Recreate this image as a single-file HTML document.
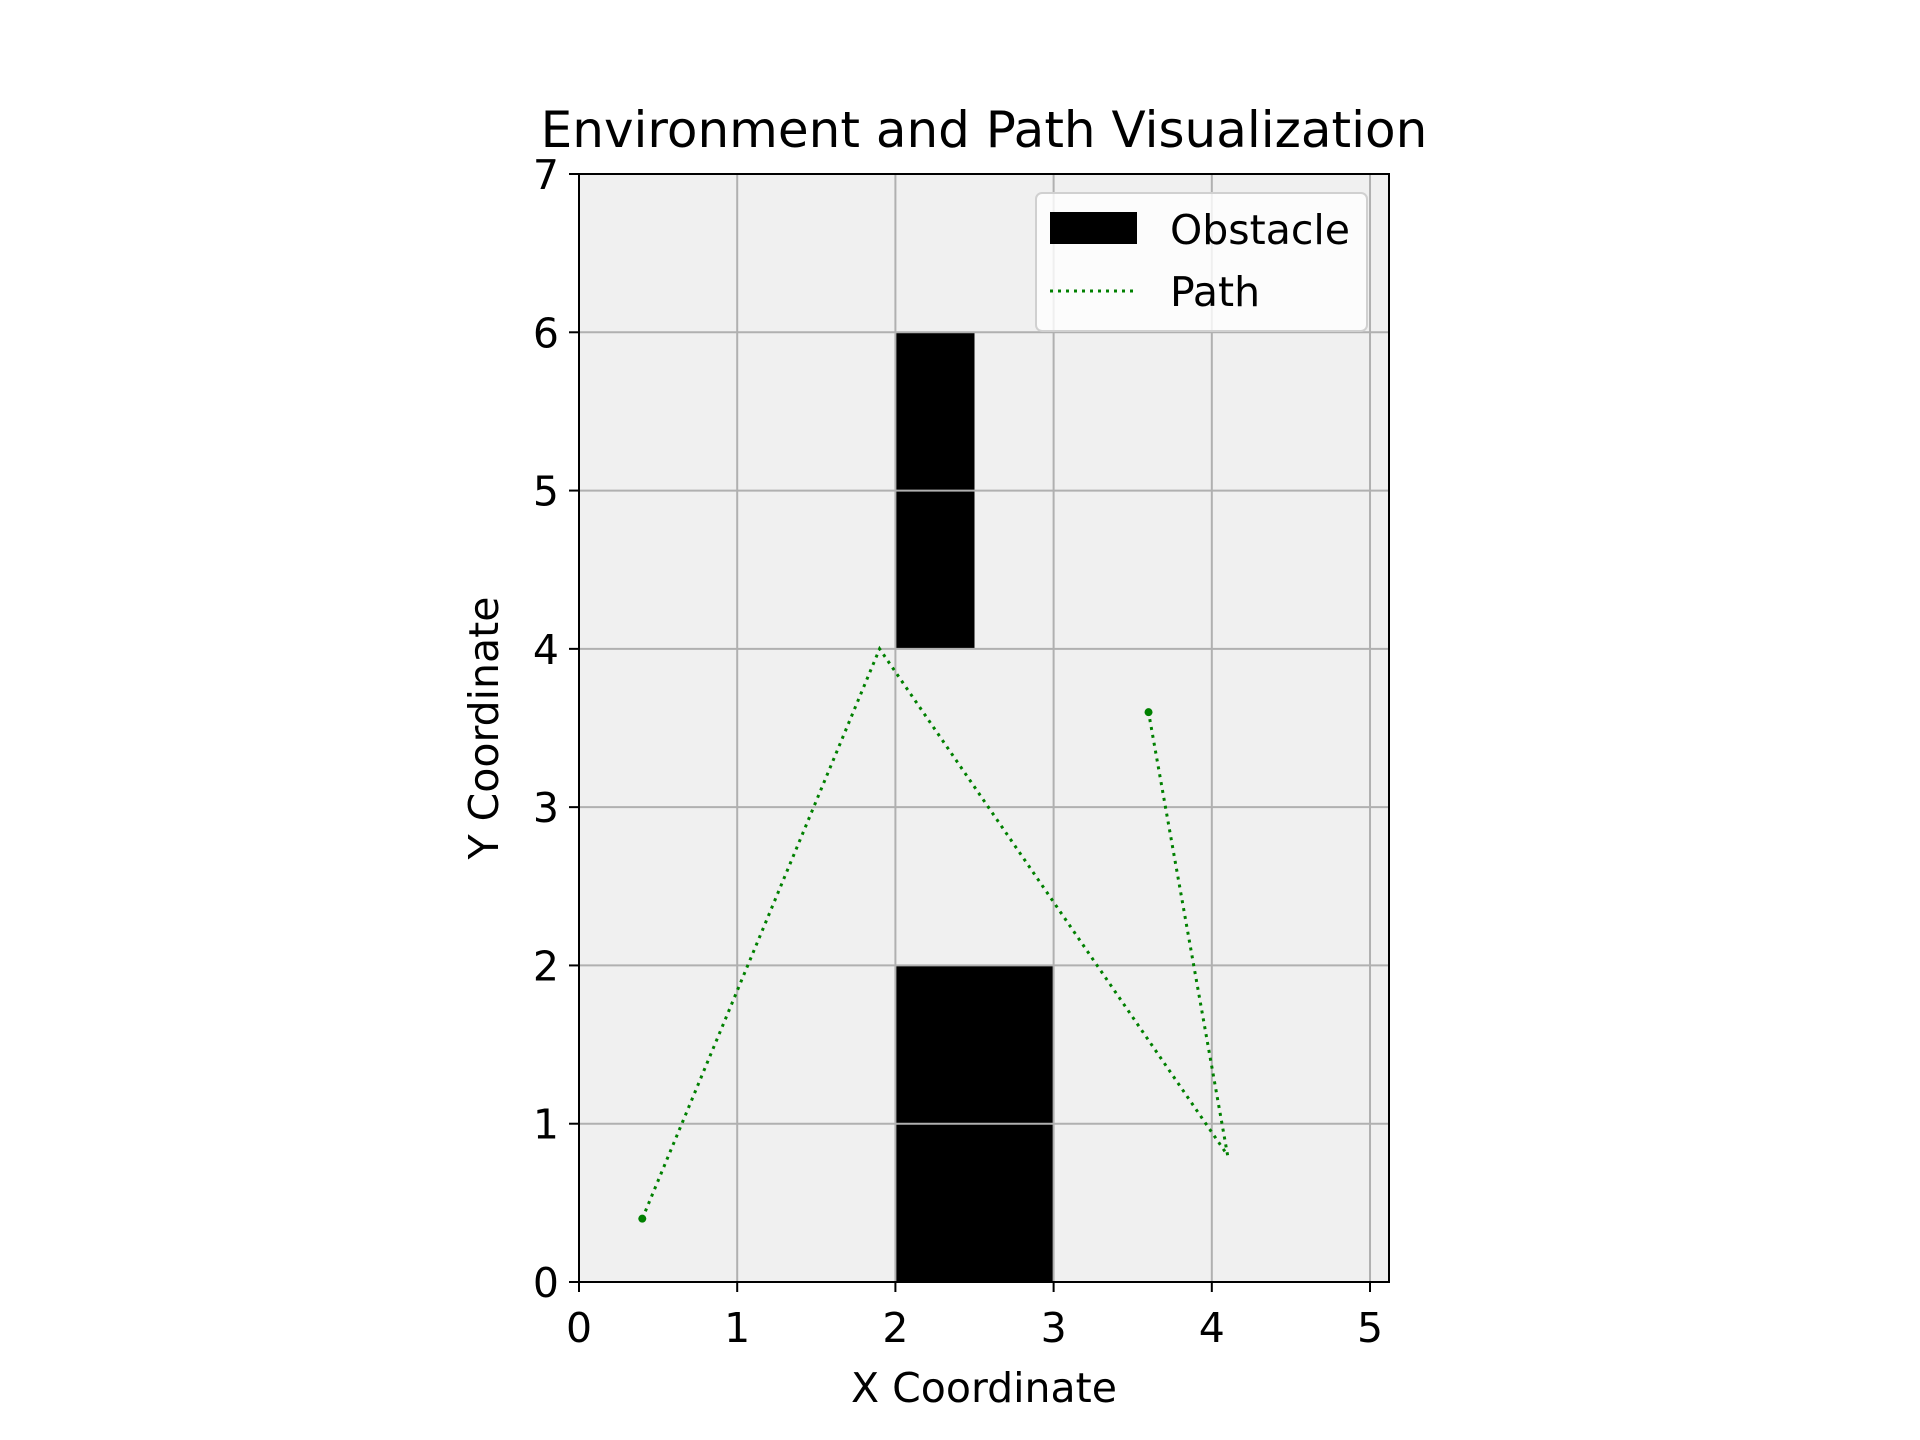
<!DOCTYPE html>
<html><head><meta charset="utf-8"><style>body{margin:0;background:#fff}svg{display:block;font-family:"DejaVu Sans","Liberation Sans",sans-serif}</style></head>
<body>
<svg id="chart" width="1920" height="1440" viewBox="0 0 1920 1440"></svg>
<script>
const xTicks=[0,1,2,3,4,5];
const yTicks=[0,1,2,3,4,5,6,7];
const obstacleX=[2,2];
const obstacleY=[4,0];
const obstacleW=[0.5,1];
const obstacleH=[2,2];
const pathX=[0.4,1.9,4.1,3.6];
const pathY=[0.4,4.0,0.8,3.6];
const xMin=0,xMax=5.12,yMin=0,yMax=7;
const L=579,R=1389,T=174,B=1282;
const sx=v=>L+(v-xMin)/(xMax-xMin)*(R-L);
const sy=v=>B-(v-yMin)/(yMax-yMin)*(B-T);
const svg=document.getElementById('chart');
const NS='http://www.w3.org/2000/svg';
function mk(tag,attrs,parent){const e=document.createElementNS(NS,tag);for(const k in attrs)e.setAttribute(k,attrs[k]);(parent||svg).appendChild(e);return e;}
let bg=mk('rect',{x:L,y:T,width:R-L,height:B-T,fill:'#f0f0f0'});


obstacleX.forEach((x,i)=>{const r=mk('rect',{x:sx(x),y:sy(obstacleY[i]+obstacleH[i]),width:sx(x+obstacleW[i])-sx(x),height:sy(obstacleY[i])-sy(obstacleY[i]+obstacleH[i]),fill:'#000'});

});
xTicks.forEach(v=>{const g=mk('line',{x1:sx(v),x2:sx(v),y1:T,y2:B,stroke:'#b0b0b0','stroke-width':2});


mk('line',{x1:sx(v),x2:sx(v),y1:B,y2:B+10,stroke:'#000','stroke-width':2});
const t=mk('text',{x:sx(v),y:B+60,'font-size':41,'text-anchor':'middle'});t.textContent=v;

});
yTicks.forEach(v=>{const g=mk('line',{x1:L,x2:R,y1:sy(v),y2:sy(v),stroke:'#b0b0b0','stroke-width':2});


mk('line',{x1:L-10,x2:L,y1:sy(v),y2:sy(v),stroke:'#000','stroke-width':2});
const t=mk('text',{x:L-20,y:sy(v)+15,'font-size':41,'text-anchor':'end'});t.textContent=v;

});
let pl=mk('polyline',{points:pathX.map((x,i)=>sx(x)+','+sy(pathY[i])).join(' '),fill:'none',stroke:'#008000','stroke-width':3,'stroke-dasharray':'3,5'});


[0,pathX.length-1].forEach(i=>{const c=mk('circle',{cx:sx(pathX[i]),cy:sy(pathY[i]),r:4,fill:'#008000'});

});
let fr=mk('rect',{x:L,y:T,width:R-L,height:B-T,fill:'none',stroke:'#000','stroke-width':2});


let tt=mk('text',{x:984,y:147,'font-size':50,'text-anchor':'middle'});tt.textContent='Environment and Path Visualization';


let xl=mk('text',{x:984,y:1402,'font-size':41,'text-anchor':'middle'});xl.textContent='X Coordinate';


let yl=mk('text',{x:0,y:0,'font-size':41,'text-anchor':'middle',transform:'translate(498,728) rotate(-90)'});yl.textContent='Y Coordinate';


let lg=mk('g',{});


mk('rect',{x:1036,y:193,width:331,height:138,rx:6,fill:'#fff','fill-opacity':0.8,stroke:'#d0d0d0','stroke-width':2},lg);
let le1=mk('rect',{x:1050,y:212,width:87,height:32,fill:'#000'},lg);


let t1=mk('text',{x:1170,y:244,'font-size':41},lg);t1.textContent='Obstacle';


let le2=mk('line',{x1:1050,x2:1137,y1:291,y2:291,stroke:'#008000','stroke-width':3,'stroke-dasharray':'3,5'},lg);


let t2=mk('text',{x:1170,y:306,'font-size':41},lg);t2.textContent='Path';


</script>
</body></html>
